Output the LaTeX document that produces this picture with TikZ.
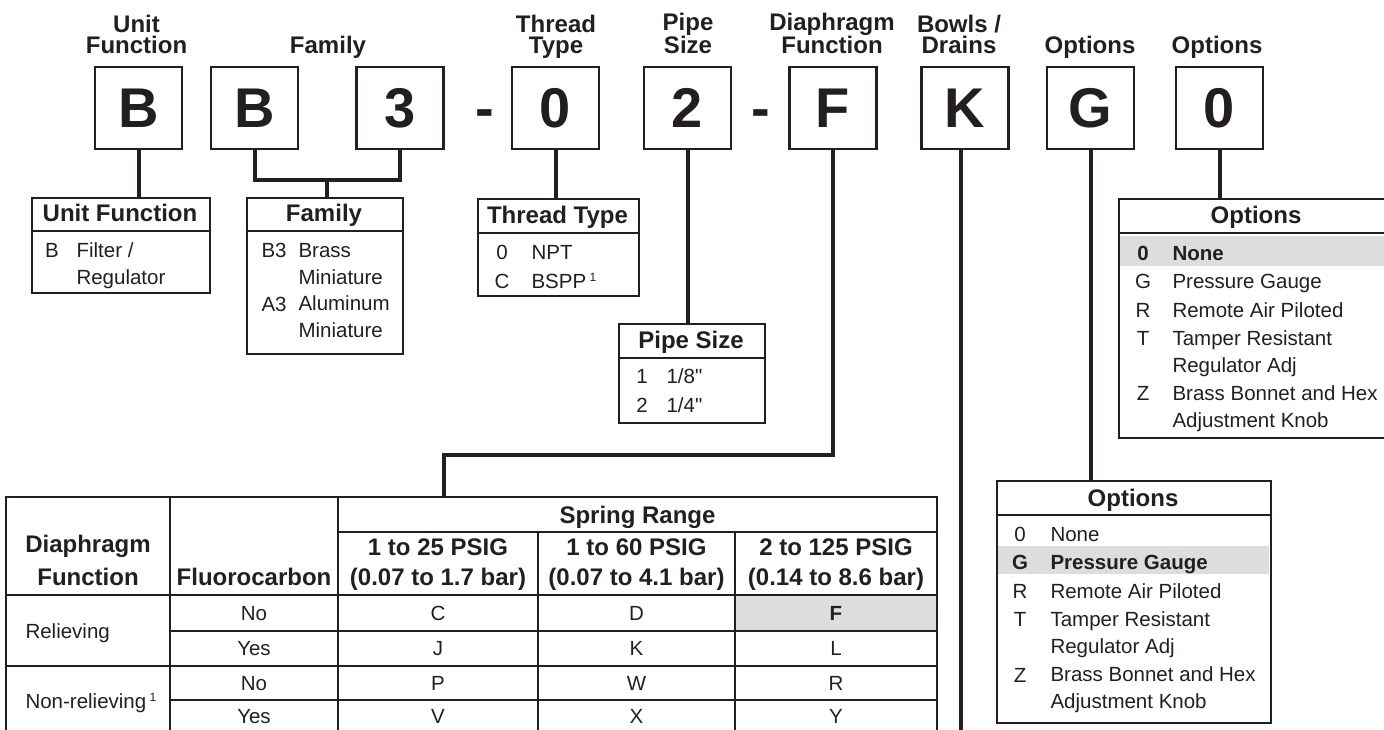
\documentclass[tikz,border=0pt]{standalone}
\usepackage{fontspec}
\setmainfont{Liberation Sans}[Ligatures=TeXOff]
\usetikzlibrary{matrix}

\definecolor{ink}{HTML}{231F20}
\definecolor{hilite}{HTML}{DCDDDE}
\newcommand{\bodyfont}{\fontsize{20.5}{26.5}\selectfont}
\newcommand{\headfont}{\fontsize{24}{21.5}\selectfont\bfseries}
\newcommand{\supone}{\,\raisebox{6.5pt}{\fontsize{12}{12}\selectfont 1}}

\begin{document}
\begin{tikzpicture}[x=1pt, y=-1pt, every node/.style={text=ink},
	code/.style={draw=ink, line width=2.4pt, minimum width=87pt, minimum height=82pt, inner sep=0pt, font=\fontsize{56}{56}\selectfont\bfseries},
	hdr/.style={align=center, anchor=base, font=\headfont},
	panel/.style={draw=ink, line width=2.2pt, anchor=north west, inner sep=0pt},
	ttl/.style={anchor=base, align=center, font=\fontsize{24}{30}\selectfont\bfseries},
	tag/.style={anchor=base, font=\bodyfont},
	entry/.style={anchor=base west, align=left, font=\bodyfont},
	lead/.style={draw=ink, line width=4pt},
	rule/.style={draw=ink, line width=2.2pt},
	hair/.style={draw=ink, line width=1.6pt}]
	\clip (0,0) rectangle (1384,730);

	% model code (multi-line nodes sit on their last baseline)
	\node[code] (cU) at (138.5,108) {B};
	\node[code] (cB) at (254.5,108) {B};
	\node[code] (c3) at (400,108) {3};
	\node[font=\fontsize{56}{56}\selectfont\bfseries, anchor=base] (dash1) at (484.5,128) {-};
	\node[code] (cT) at (555.5,108) {0};
	\node[code] (cP) at (687.5,108) {2};
	\node[font=\fontsize{56}{56}\selectfont\bfseries, anchor=base] (dash2) at (760.5,128) {-};
	\node[code] (cD) at (833,108) {F};
	\node[code] (cK) at (965,108) {K};
	\node[code] (cG) at (1090.5,108) {G};
	\node[code] (cO) at (1219.5,108) {0};

	\node[hdr] (hU) at (136.5,54) {Unit\\Function};
	\node[hdr] (hF) at (328,54) {Family};
	\node[hdr] (hT) at (556,54) {Thread\\Type};
	\node[hdr] (hP) at (688,54) {Pipe\\Size};
	\node[hdr] (hD) at (832,54) {Diaphragm\\Function};
	\node[hdr] (hK) at (959,54) {Bowls /\\Drains};
	\node[hdr] (hG) at (1090,54) {Options};
	\node[hdr] (hO) at (1217,54) {Options};

	% unit function
	\node[panel, minimum width=178pt, minimum height=95pt] (pU) at (31,197) {};
	\draw[hair] ([yshift=-34pt]pU.north west) -- ([yshift=-34pt]pU.north east);
	\node[ttl] (tU) at (120,222) {Unit Function};
	\node[tag] (uB) at (52,258) {B};
	\node[entry] (uBx) at (73,284) {Filter /\\Regulator};

	% family
	\node[panel, minimum width=156pt, minimum height=156pt] (pF) at (246,197) {};
	\draw[hair] ([yshift=-34pt]pF.north west) -- ([yshift=-34pt]pF.north east);
	\node[ttl] (tF) at (324,222) {Family};
	\node[tag, anchor=base west] (fB) at (258,258) {B3};
	\node[entry] (fBx) at (295,284) {Brass\\Miniature};
	\node[tag, anchor=base west] (fA) at (258,311) {A3};
	\node[entry] (fAx) at (295,337) {Aluminum\\Miniature};

	% thread type
	\node[panel, minimum width=161pt, minimum height=97pt] (pT) at (477,198) {};
	\draw[hair] ([yshift=-35pt]pT.north west) -- ([yshift=-35pt]pT.north east);
	\node[ttl] (tT) at (557.5,223) {Thread Type};
	\node[tag] (t0) at (502,259) {0};
	\node[entry] (t0x) at (528,259) {NPT};
	\node[tag] (tC) at (502,288) {C};
	\node[entry] (tCx) at (528,288) {BSPP\supone};

	% pipe size
	\node[panel, minimum width=146pt, minimum height=99pt] (pP) at (618,323) {};
	\draw[hair] ([yshift=-35pt]pP.north west) -- ([yshift=-35pt]pP.north east);
	\node[ttl] (tP) at (691,348) {Pipe Size};
	\node[tag] (p1) at (642,383) {1};
	\node[entry] (p1x) at (663,383) {1/8"};
	\node[tag] (p2) at (642,412) {2};
	\node[entry] (p2x) at (663,412) {1/4"};

	% options (last digit)
	\fill[hilite] (1119,236) rectangle (1394,266);
	\node[panel, minimum width=276pt, minimum height=239pt] (pO) at (1118,198) {};
	\draw[hair] ([yshift=-35pt]pO.north west) -- ([yshift=-35pt]pO.north east);
	\node[ttl] (tO) at (1256,223) {Options};
	\node[tag, font=\bodyfont\bfseries] (o0) at (1143,260) {0};
	\node[entry, font=\bodyfont\bfseries] (o0x) at (1169,260) {None};
	\node[tag] (oG) at (1143,288) {G};
	\node[entry] (oGx) at (1169,288) {Pressure Gauge};
	\node[tag] (oR) at (1143,317) {R};
	\node[entry] (oRx) at (1169,317) {Remote Air Piloted};
	\node[tag] (oT) at (1143,345) {T};
	\node[entry] (oTx) at (1169,372) {Tamper Resistant\\Regulator Adj};
	\node[tag] (oZ) at (1143,400) {Z};
	\node[entry] (oZx) at (1169,427) {Brass Bonnet and Hex\\Adjustment Knob};

	% options (gauge)
	\fill[hilite] (997,546) rectangle (1269,574);
	\node[panel, minimum width=274pt, minimum height=242pt] (pG) at (996,480) {};
	\draw[hair] ([yshift=-35pt]pG.north west) -- ([yshift=-35pt]pG.north east);
	\node[ttl] (tG) at (1133,506) {Options};
	\node[tag] (g0) at (1020,541) {0};
	\node[entry] (g0x) at (1047,541) {None};
	\node[tag, font=\bodyfont\bfseries] (gG) at (1020,569) {G};
	\node[entry, font=\bodyfont\bfseries] (gGx) at (1047,569) {Pressure Gauge};
	\node[tag] (gR) at (1020,598) {R};
	\node[entry] (gRx) at (1047,598) {Remote Air Piloted};
	\node[tag] (gT) at (1020,626) {T};
	\node[entry] (gTx) at (1047,653) {Tamper Resistant\\Regulator Adj};
	\node[tag] (gZ) at (1020,682) {Z};
	\node[entry] (gZx) at (1047,708) {Brass Bonnet and Hex\\Adjustment Knob};

	% diaphragm function table
	\matrix (S) [matrix of nodes, anchor=north west, inner sep=0pt, outer sep=0pt, column sep=0pt, row sep=0pt,
		nodes={minimum height=35pt, inner sep=0pt, outer sep=0pt, text height=14.7pt, text depth=0pt, font=\bodyfont},
		column 1/.style={nodes={minimum width=168pt}}, column 2/.style={nodes={minimum width=200pt}},
		column 3/.style={nodes={minimum width=197pt}}, column 4/.style={nodes={minimum width=202pt}},
		row 1/.style={nodes={minimum height=36pt}}, row 3/.style={nodes={minimum height=34pt}},
		row 4/.style={nodes={minimum height=32pt}}] at (170,595) {
		No & C & D & |[fill=hilite, font=\bodyfont\bfseries]| F \\
		Yes & J & K & L \\
		No & P & W & R \\
		Yes & V & X & Y \\
	};
	\draw[rule] (6,735) -- (6,497) -- (937,497) -- (937,735);
	\draw[rule] (170,497) -- (170,735);
	\draw[rule] (338,497) -- (338,735);
	\draw[rule] (338,532) -- (937,532);
	\draw[rule] (538,532) -- (538,735);
	\draw[rule] (735,532) -- (735,735);
	\draw[rule] (6,595) -- (937,595);
	\draw[rule] (6,666) -- (937,666);
	\draw[hair] (170,631) -- (937,631);
	\draw[hair] (170,700) -- (937,700);
	\node[ttl, font=\fontsize{24}{33}\selectfont\bfseries] (xDia) at (88,585) {Diaphragm\\Function};
	\node[ttl] (xFluo) at (254,585) {Fluorocarbon};
	\node[ttl] (xSpring) at (637.5,523) {Spring Range};
	\node[ttl] (xR1) at (438,585) {1 to 25 PSIG\\(0.07 to 1.7 bar)};
	\node[ttl] (xR2) at (636.5,585) {1 to 60 PSIG\\(0.07 to 4.1 bar)};
	\node[ttl] (xR3) at (836,585) {2 to 125 PSIG\\(0.14 to 8.6 bar)};
	\node[entry] (xRel) at (22,638) {Relieving};
	\node[entry] (xNon) at (22,708) {Non-relieving\supone};

	% leads
	\coordinate (famJoin) at (327,180);
	\coordinate (dBend) at (444,455);
	\coordinate (tblTop) at (444,497);
	\coordinate (kEnd) at (961,735);
	\draw[lead] (cU.south) -- (cU.south |- pU.north);
	\draw[lead] (cB.south) |- (famJoin) -| (c3.south);
	\draw[lead] (famJoin) -- (famJoin |- pF.north);
	\draw[lead] (cT.south) -- (cT.south |- pT.north);
	\draw[lead] (cP.south) -- (cP.south |- pP.north);
	\draw[lead] (cD.south) |- (dBend) -- (tblTop);
	\draw[lead] (kEnd |- cK.south) -- (kEnd);
	\draw[lead] (cG.south) -- (cG.south |- pG.north);
	\draw[lead] (cO.south) -- (cO.south |- pO.north);
\end{tikzpicture}
\end{document}
